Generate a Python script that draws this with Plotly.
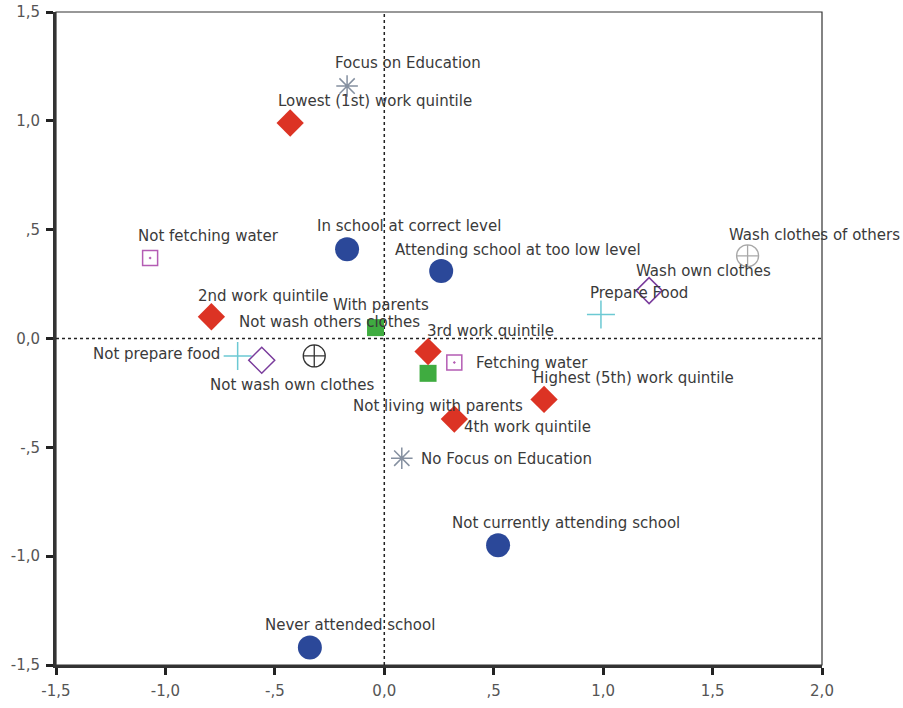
import plotly.graph_objects as go

# Category points (dimension 1, dimension 2)
names = [
    "Focus on Education", "No Focus on Education",
    "Lowest (1st) work quintile", "2nd work quintile", "3rd work quintile",
    "4th work quintile", "Highest (5th) work quintile",
    "In school at correct level", "Attending school at too low level",
    "Not currently attending school", "Never attended school",
    "With parents", "Not living with parents",
    "Not fetching water", "Fetching water",
    "Prepare Food", "Not prepare food",
    "Wash own clothes", "Not wash own clothes",
    "Wash clothes of others", "Not wash others clothes",
]
dim1 = [-0.17, 0.08,
        -0.43, -0.79, 0.20, 0.32, 0.73,
        -0.17, 0.26, 0.52, -0.34,
        -0.04, 0.20,
        -1.07, 0.32,
        0.99, -0.67,
        1.21, -0.56,
        1.66, -0.32]
dim2 = [1.16, -0.55,
        0.99, 0.10, -0.06, -0.37, -0.28,
        0.41, 0.31, -0.95, -1.42,
        0.05, -0.16,
        0.37, -0.11,
        0.11, -0.08,
        0.22, -0.10,
        0.38, -0.08]
groups = ["focus", "focus",
          "quint", "quint", "quint", "quint", "quint",
          "school", "school", "school", "school",
          "parents", "parents",
          "water", "water",
          "food", "food",
          "ownwash", "ownwash",
          "otherwash_yes", "otherwash_no"]

tick_vals_x = [-1.5, -1.0, -0.5, 0.0, 0.5, 1.0, 1.5, 2.0]
tick_text_x = ["-1,5", "-1,0", "-,5", "0,0", ",5", "1,0", "1,5", "2,0"]
tick_vals_y = [-1.5, -1.0, -0.5, 0.0, 0.5, 1.0, 1.5]
tick_text_y = ["-1,5", "-1,0", "-,5", "0,0", ",5", "1,0", "1,5"]

# Styles per group
styles = {
    "focus": dict(symbol="asterisk-open", size=18, color="#8590a0", line=dict(width=1.5, color="#8590a0")),
    "quint": dict(symbol="diamond", size=21, color="#dc3324", line=dict(width=0)),
    "school": dict(symbol="circle", size=24, color="#2b4899", line=dict(width=0)),
    "parents": dict(symbol="square", size=17, color="#3fac40", line=dict(width=0)),
    "water": dict(symbol="square-open-dot", size=15, color="#b45cb4", line=dict(width=1.5, color="#b45cb4")),
    "food": dict(symbol="cross-thin-open", size=20, color="#6cc9d3", line=dict(width=1.5, color="#6cc9d3")),
    "ownwash": dict(symbol="diamond-open", size=20, color="#7a3c9c", line=dict(width=1.5, color="#7a3c9c")),
    "otherwash_yes": dict(symbol="circle-cross-open", size=22, color="#a8a8a8", line=dict(width=1.3, color="#a8a8a8")),
    "otherwash_no": dict(symbol="circle-cross-open", size=22, color="#333333", line=dict(width=1.3, color="#333333")),
}

# Label placement offsets in pixels (x right, y up)
label_offsets = {
    "Focus on Education": (61, 23),
    "No Focus on Education": (105, -1),
    "Lowest (1st) work quintile": (85, 22),
    "2nd work quintile": (52, 21),
    "3rd work quintile": (62, 21),
    "4th work quintile": (73, -8),
    "Highest (5th) work quintile": (89, 21),
    "In school at correct level": (62, 23),
    "Attending school at too low level": (77, 21),
    "Not currently attending school": (68, 22),
    "Never attended school": (40, 23),
    "With parents": (5, 23),
    "Not living with parents": (10, -33),
    "Not fetching water": (58, 22),
    "Fetching water": (78, -1),
    "Prepare Food": (38, 22),
    "Not prepare food": (-81, 2),
    "Wash own clothes": (54, 20),
    "Not wash own clothes": (31, -25),
    "Wash clothes of others": (67, 21),
    "Not wash others clothes": (15, 34),
}

FONT = "DejaVu Sans, Verdana, sans-serif"

fig = go.Figure()

# Reference lines
fig.add_shape(type="line", xref="x", yref="y", x0=0, x1=0, y0=-1.5, y1=1.5,
              line=dict(color="#222", width=1.5, dash="dot"), layer="below")
fig.add_shape(type="line", xref="x", yref="y", x0=-1.5, x1=2.0, y0=0, y1=0,
              line=dict(color="#222", width=1.5, dash="dot"), layer="below")

order = ["focus", "parents", "water", "food", "ownwash", "otherwash_yes", "otherwash_no", "school", "quint"]
for g in order:
    xs = [x for x, gg in zip(dim1, groups) if gg == g]
    ys = [y for y, gg in zip(dim2, groups) if gg == g]
    tx = [n for n, gg in zip(names, groups) if gg == g]
    st = styles[g]
    fig.add_trace(go.Scatter(
        x=xs, y=ys, mode="markers", text=tx, hoverinfo="text",
        marker=dict(symbol=st["symbol"], size=st["size"], color=st["color"], line=st["line"]),
        showlegend=False, cliponaxis=False,
    ))

for n, x, y in zip(names, dim1, dim2):
    dx, dy = label_offsets[n]
    fig.add_annotation(x=x, y=y, xref="x", yref="y", text=n, showarrow=False,
                       xshift=dx, yshift=dy, xanchor="center", yanchor="middle",
                       font=dict(family=FONT, size=15, color="#3a3a3a"))

# Thin top/right frame
fig.add_shape(type="rect", xref="paper", yref="paper", x0=0, x1=1, y0=0, y1=1,
              line=dict(color="#333", width=1.2), layer="below")

axis_common = dict(
    showgrid=False, zeroline=False, showline=True, linecolor="#333", linewidth=3,
    ticks="outside", ticklen=7, tickwidth=3, tickcolor="#222",
    tickfont=dict(family=FONT, size=15, color="#555"),
    automargin=False,
)
fig.update_xaxes(range=[-1.5, 2.0], tickvals=tick_vals_x, ticktext=tick_text_x,
                 ticklabelstandoff=3, **axis_common)
fig.update_yaxes(range=[-1.5, 1.5], tickvals=tick_vals_y, ticktext=tick_text_y,
                 ticklabelstandoff=3, **axis_common)

fig.update_layout(
    width=903, height=708,
    margin=dict(l=56, r=81, t=12, b=43),
    plot_bgcolor="white", paper_bgcolor="white",
)

fig.write_html("out.html", config={"displayModeBar": False},
               post_script="document.body.style.margin='0';")
